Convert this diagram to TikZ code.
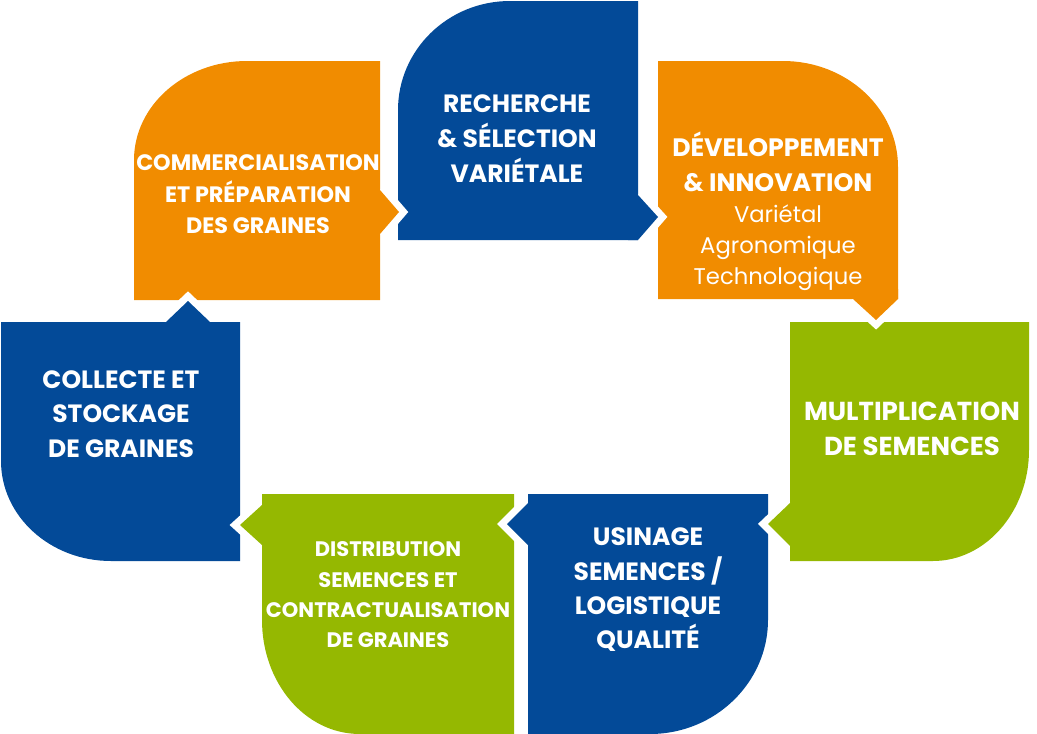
\documentclass[tikz,border=0pt]{standalone}
\usepackage{fontspec}
\setmainfont{Poppins}
\definecolor{cblue}{RGB}{3,74,152}
\definecolor{corange}{RGB}{241,140,0}
\definecolor{cgreen}{RGB}{149,184,1}
\begin{document}
\begin{tikzpicture}[x=1pt,y=-1pt,
  gapline/.style={draw=white,line width=14pt,line join=miter,miter limit=10},
  lb/.style={text=white,inner sep=0pt,anchor=base},
  bA/.style={lb,font=\bfseries\fontsize{22.3}{22.3}\selectfont,yshift=-7.8pt},
  bB/.style={lb,font=\bfseries\fontsize{25}{25}\selectfont,yshift=-8.75pt},
  bC/.style={lb,font=\bfseries\fontsize{25.2}{25.2}\selectfont,yshift=-8.8pt},
  rC/.style={lb,font=\fontsize{22.7}{22.7}\selectfont,yshift=-7.9pt},
  bD/.style={lb,font=\bfseries\fontsize{26}{26}\selectfont,yshift=-9.1pt},
  bE/.style={lb,font=\bfseries\fontsize{25}{25}\selectfont,yshift=-8.75pt},
  bF/.style={lb,font=\bfseries\fontsize{21}{21}\selectfont,yshift=-7.35pt}]
\useasboundingbox (0,0) rectangle (1037,734);
% bodies
\fill[corange] (247,61) -- (380,61) -- (380,300) -- (134,300) -- (134,160)
  .. controls (134,105.3) and (184.6,61) .. (247,61) -- cycle;
\fill[cblue] (510,1) -- (638,1) -- (638,240) -- (398,240) -- (398,110)
  .. controls (398,49.8) and (448.1,1) .. (510,1) -- cycle;
\fill[corange] (658,61) -- (783,61) .. controls (846.5,61) and (898,108.5) .. (898,167)
  -- (898,299) -- (658,299) -- cycle;
\fill[cgreen] (790,322) -- (1029,322) -- (1029,450) .. controls (1029,511.3) and (986,561) .. (933,561)
  -- (790,561) -- cycle;
\fill[cblue] (528,494) -- (768,494) -- (768,620) .. controls (768,682.4) and (715.2,734) .. (650,734)
  -- (528,734) -- cycle;
\fill[cgreen] (262,494) -- (514,494) -- (514,734) -- (360,734) .. controls (304.8,734) and (262,682.4) .. (262,620)
  -- cycle;
\fill[cblue] (1,322) -- (240,322) -- (240,561) -- (111,561) .. controls (50.2,561) and (1,516.2) .. (1,461)
  -- cycle;
% arrows
\coordinate (tA) at (399,212); \coordinate (tB) at (658,217); \coordinate (tC) at (876,320);
\coordinate (tD) at (768,524); \coordinate (tE) at (507,524); \coordinate (tF) at (240,525);
\coordinate (tG) at (188,301);
\draw[gapline] (380,190) -- (tA) -- (380,234);
\fill[corange] (370,190) -- (380,190) -- (tA) -- (380,234) -- (370,234) -- cycle;
\draw[gapline] (638,195) -- (tB) -- (638,240);
\fill[cblue] (628,195) -- (638,195) -- (tB) -- (638,240) -- (628,240) -- cycle;
\draw[gapline] (853,299) -- (tC) -- (898,299);
\fill[corange] (853,289) -- (853,299) -- (tC) -- (898,299) -- (898,289) -- cycle;
\draw[gapline] (790,503) -- (tD) -- (790,546);
\fill[cgreen] (800,503) -- (790,503) -- (tD) -- (790,546) -- (800,546) -- cycle;
\draw[gapline] (528,503) -- (tE) -- (528,545);
\fill[cblue] (538,503) -- (528,503) -- (tE) -- (528,545) -- (538,545) -- cycle;
\draw[gapline] (262,505) -- (tF) -- (262,545);
\fill[cgreen] (272,505) -- (262,505) -- (tF) -- (262,545) -- (272,545) -- cycle;
\draw[gapline] (166,322) -- (tG) -- (210,322);
\fill[cblue] (166,332) -- (166,322) -- (tG) -- (210,322) -- (210,332) -- cycle;
% texts
\node[bA] (a1) at (258,163) {COMMERCIALISATION};
\node[bA] (a2) at (258,195) {ET PRÉPARATION};
\node[bA] (a3) at (258,226) {DES GRAINES};
\node[bB] (b1) at (517,104) {RECHERCHE};
\node[bB] (b2) at (517,139) {\& SÉLECTION};
\node[bB] (b3) at (517,174) {VARIÉTALE};
\node[bC] (c1) at (778,148) {DÉVELOPPEMENT};
\node[bC] (c2) at (778,183) {\& INNOVATION};
\node[rC] (c3) at (778,215) {Variétal};
\node[rC] (c4) at (778,246) {Agronomique};
\node[rC] (c5) at (778,277) {Technologique};
\node[bD] (d1) at (912,411) {MULTIPLICATION};
\node[bD] (d2) at (912,446) {DE SEMENCES};
\node[bE] (e1) at (648,537) {USINAGE};
\node[bE] (e2) at (648,572) {SEMENCES /};
\node[bE] (e3) at (648,606) {LOGISTIQUE};
\node[bE] (e4) at (648,640) {QUALITÉ};
\node[bF] (f1) at (388,549) {DISTRIBUTION};
\node[bF] (f2) at (388,580) {SEMENCES ET};
\node[bF] (f3) at (388,610) {CONTRACTUALISATION};
\node[bF] (f4) at (388,640) {DE GRAINES};
\node[bE] (g1) at (121,380) {COLLECTE ET};
\node[bE] (g2) at (121,414) {STOCKAGE};
\node[bE] (g3) at (121,449) {DE GRAINES};
\end{tikzpicture}
\end{document}
